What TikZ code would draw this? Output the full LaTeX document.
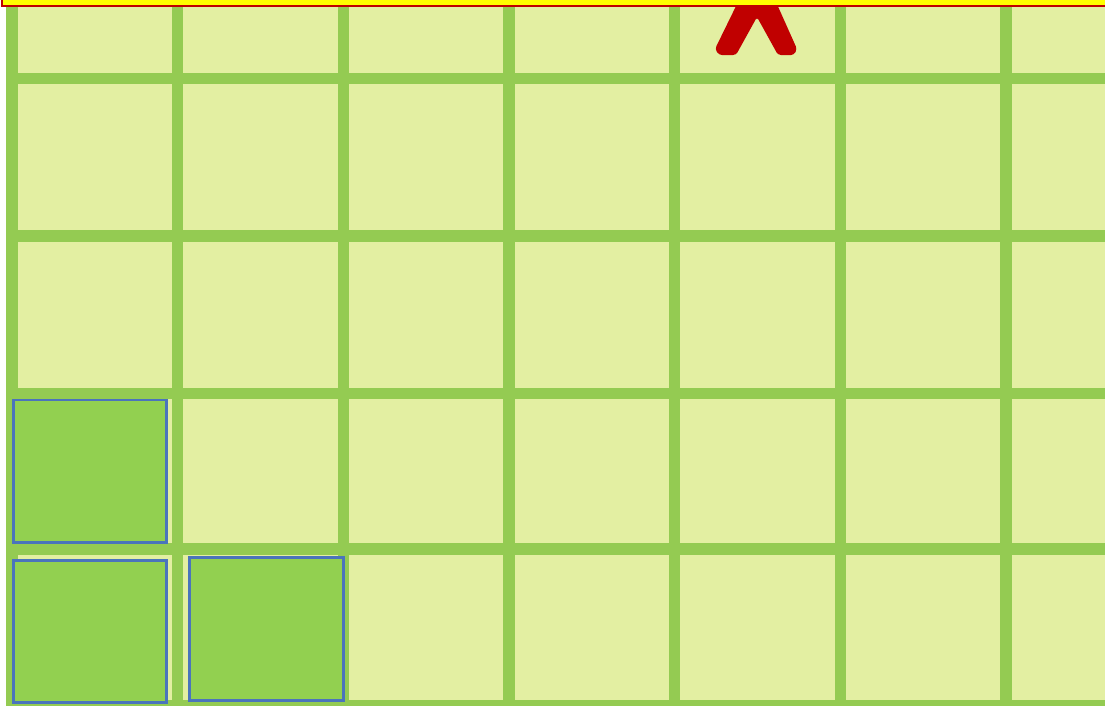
\documentclass[tikz,border=0pt]{standalone}
\usepackage{tikz}
\definecolor{cellfill}{HTML}{E3EFA2}
\definecolor{gridgreen}{HTML}{94CB52}
\definecolor{pickgreen}{HTML}{92D050}
\definecolor{pickedge}{HTML}{4A74BC}
\definecolor{barfill}{HTML}{FFFF00}
\definecolor{barred}{HTML}{C00000}

\begin{document}
\begin{tikzpicture}[x=1pt, y=-1pt,
  gridline/.style={line width=11.5pt, gridgreen},
  picked/.style={fill=pickgreen, draw=pickedge, line width=2.5pt},
  topbar/.style={fill=barfill, draw=barred, line width=2pt},
  caret/.style={fill=barred, rounded corners=3pt}
]
  \useasboundingbox (0,0) rectangle (1105,705);
  \fill[white] (0,0) rectangle (1105,705);
  \fill[cellfill] (6,0) rectangle (1105,705);

  % grid
  \foreach \x in {0,...,6}
    \draw[gridline] (11.9+165.7*\x,0) -- (11.9+165.7*\x,705);
  \foreach \y in {78.3,236,393.5,549,706}
    \draw[gridline] (6,\y) -- (1105,\y);

  % filled cells
  \draw[picked] (13.3,400) rectangle (166.7,542.3);
  \draw[picked] (13.3,560.7) rectangle (166.7,702.3);
  \draw[picked] (189.3,557.7) rectangle (343.3,700.7);

  % pointer and bar
  \fill[caret] (738,2) -- (776,2) -- (797,49) -- (794,55) -- (778,55)
    -- (757,17) -- (736,55) -- (719,55) -- (715,49) -- cycle;
  \draw[topbar] (2,-10) rectangle (1115,6);
\end{tikzpicture}
\end{document}
